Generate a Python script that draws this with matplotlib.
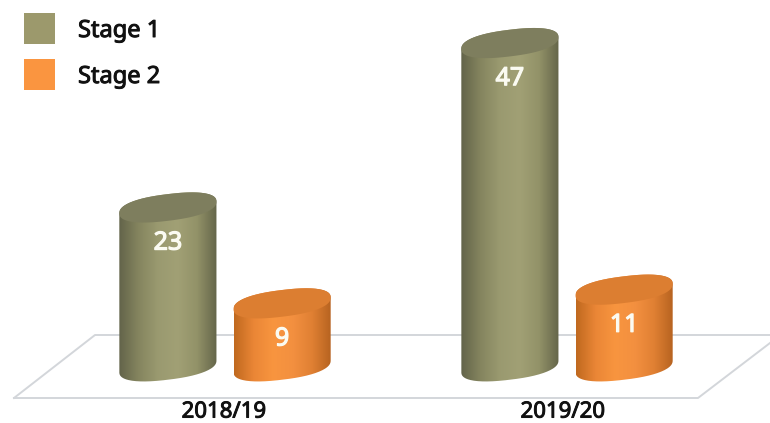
import matplotlib
matplotlib.use("Agg")
import matplotlib.pyplot as plt
import matplotlib.patheffects as pe
from matplotlib.patches import PathPatch, Rectangle
from matplotlib.path import Path
from matplotlib.colors import LinearSegmentedColormap
import numpy as np

years = ["2018/19", "2019/20"]
series_names = ["Stage 1", "Stage 2"]
stage1 = [23, 47]
stage2 = [9, 11]

W, H = 770, 423
barW = 0.284     # in group units
offset = 0.167
depth = 1.95     # ellipse half height, value units
tilt = 0.85      # rise from centre to right edge, value units

oliveRamp = ["#63644a", "#85855f", "#9a9a70", "#a1a075", "#929268", "#65664a"]
orangeRamp = ["#c0691f", "#ea8636", "#f8953f", "#f39040", "#e08033", "#b5621f"]
oliveTop = "#7e7e5e"
orangeTop = "#dc7e31"
legendCols = ["#9c996c", "#fa9540"]

plt.rcParams["font.family"] = ["Noto Sans", "DejaVu Sans"]
fig = plt.figure(figsize=(W / 100, H / 100), dpi=100)
ax = fig.add_axes([0, 0, 1, 1])


def heavy(col, w):
    return [pe.withStroke(linewidth=w, foreground=col)]


def cylinder(cx, val, ramp, topCol):
    t = np.linspace(0, np.pi, 80)
    c = np.sign(np.cos(t)) * np.abs(np.cos(t)) ** 0.85
    s = np.sin(t) ** 0.85
    xs = cx + barW / 2 * c
    # upper arc of top ellipse, then lower arc of the base
    upper = val + tilt * c + depth * s
    lower = -0.2 + tilt * c[::-1] - depth * s[::-1]
    verts = list(zip(xs, upper)) + list(zip(xs[::-1], lower))
    body = Path(verts + [verts[0]], closed=False)
    cmap = LinearSegmentedColormap.from_list("c", ramp)
    im = ax.imshow(np.linspace(0, 1, 200).reshape(1, -1), cmap=cmap, aspect="auto",
                   extent=(cx - barW / 2, cx + barW / 2, -4, val + 3), zorder=3)
    im.set_clip_path(PathPatch(body, transform=ax.transData))
    lowerTop = val + tilt * c[::-1] - depth * s[::-1]
    top = list(zip(xs, upper)) + list(zip(xs[::-1], lowerTop))
    ax.add_patch(PathPatch(Path(top + [top[0]]), fc=topCol, ec="none", zorder=4))
    ax.text(cx, val - 5.2, str(val), color="#fbfbf2", fontsize=18, fontweight="bold",
            ha="center", va="center", zorder=5, path_effects=heavy("#fbfbf2", 0.9))


# floor of the 3d chart, in pixel fractions
floorX = np.array([14, 698, 770, 770, 95, 14]) / W
floorY = 1 - np.array([398, 398, 343, 335, 335, 398]) / H
ax.plot(floorX[:3], floorY[:3], color="#d3d6da", lw=1.4, transform=ax.transAxes, zorder=1)
ax.plot(floorX[3:], floorY[3:], color="#d3d6da", lw=1.4, transform=ax.transAxes, zorder=1)

for i in range(len(years)):
    cylinder(i - offset, stage1[i], oliveRamp, oliveTop)
    cylinder(i + offset, stage2[i], orangeRamp, orangeTop)
    ax.text(i - 0.003 - 0.009 * i, -8.4, years[i], fontsize=16, color="#111111",
            ha="center", va="bottom", path_effects=heavy("#111111", 0.7))

# legend
for name, col, top in zip(series_names, legendCols, [13, 59]):
    ax.add_patch(Rectangle((24 / W, 1 - (top + 31) / H), 31 / W, 31 / H, fc=col, ec="none",
                           transform=ax.transAxes))
    ax.text(78 / W, 1 - (top + 18) / H, name, fontsize=17, color="#111111",
            ha="left", va="center", transform=ax.transAxes, path_effects=heavy("#111111", 0.7))

ax.set_xlim(-225 / 342, 545 / 342)
ax.set_ylim(-58 / 6.85, 365 / 6.85)
ax.axis("off")
fig.savefig("out.png", dpi=100, facecolor="white")
